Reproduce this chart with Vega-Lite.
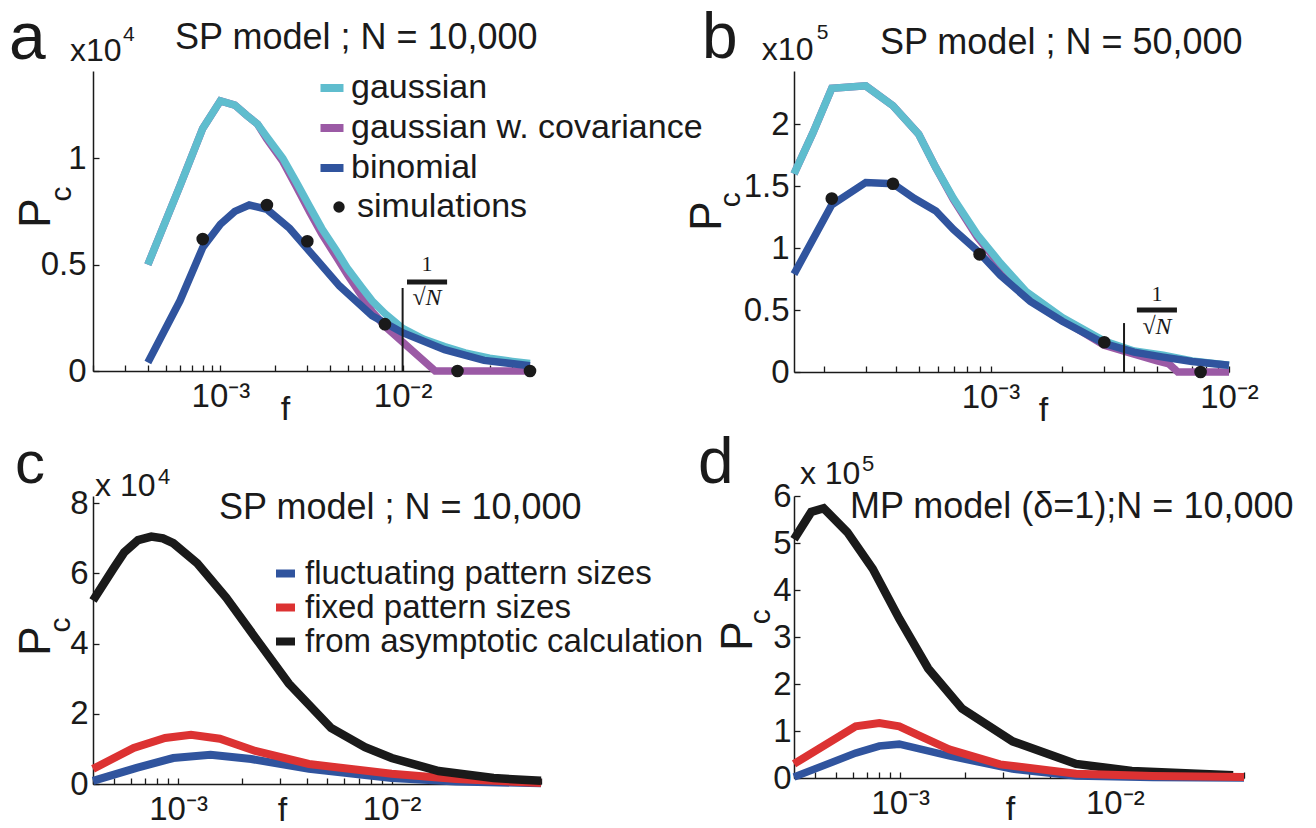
{
  "$schema": "https://vega.github.io/schema/vega-lite/v6.json",
  "background": "white",
  "autosize": {"type": "pad"},
  "padding": {"left": 9, "top": 6, "right": 5, "bottom": 0},
  "config": {
    "view": {"stroke": null},
    "font": "Liberation Sans",
    "axis": {"grid": false, "domainColor": "#1a1a1a", "domainWidth": 1.5, "tickColor": "#1a1a1a", "tickWidth": 1.3, "tickSize": -6, "labelColor": "#1a1a1a", "labelFont": "Liberation Sans", "labelFontSize": 33, "labelFlush": false, "labelOverlap": false, "titleFont": "Liberation Sans", "titleFontSize": 34, "titleFontWeight": "normal", "titleColor": "#1a1a1a"},
    "axisX": {"labelPadding": 15, "labelBaseline": "top", "titleBaseline": "alphabetic", "titleAlign": "center"},
    "axisY": {"labelPadding": 13},
    "text": {"font": "Liberation Sans", "color": "#1a1a1a"}
  },
  "resolve": {"scale": {"color": "independent", "shape": "independent"}, "legend": {"color": "independent", "shape": "independent"}},
  "datasets": {
    "a": [
      {"series": "gaussian", "f": 0.0004, "Pc": 0.5},
      {"series": "gaussian", "f": 0.0006, "Pc": 0.87},
      {"series": "gaussian", "f": 0.0008, "Pc": 1.14},
      {"series": "gaussian", "f": 0.001, "Pc": 1.27},
      {"series": "gaussian", "f": 0.0012, "Pc": 1.25},
      {"series": "gaussian", "f": 0.0014, "Pc": 1.2},
      {"series": "gaussian", "f": 0.0016, "Pc": 1.16},
      {"series": "gaussian", "f": 0.0018, "Pc": 1.1},
      {"series": "gaussian", "f": 0.0022, "Pc": 1.0},
      {"series": "gaussian", "f": 0.0026, "Pc": 0.89},
      {"series": "gaussian", "f": 0.0031, "Pc": 0.77},
      {"series": "gaussian", "f": 0.0036, "Pc": 0.67},
      {"series": "gaussian", "f": 0.0043, "Pc": 0.57},
      {"series": "gaussian", "f": 0.005, "Pc": 0.48},
      {"series": "gaussian", "f": 0.006, "Pc": 0.39},
      {"series": "gaussian", "f": 0.0068, "Pc": 0.33},
      {"series": "gaussian", "f": 0.008, "Pc": 0.27},
      {"series": "gaussian", "f": 0.01, "Pc": 0.2},
      {"series": "gaussian", "f": 0.013, "Pc": 0.15},
      {"series": "gaussian", "f": 0.017, "Pc": 0.115},
      {"series": "gaussian", "f": 0.022, "Pc": 0.085},
      {"series": "gaussian", "f": 0.03, "Pc": 0.06},
      {"series": "gaussian", "f": 0.04, "Pc": 0.045},
      {"series": "gaussian", "f": 0.05, "Pc": 0.035},
      {"series": "gaussian w. covariance", "f": 0.0004, "Pc": 0.5},
      {"series": "gaussian w. covariance", "f": 0.0006, "Pc": 0.87},
      {"series": "gaussian w. covariance", "f": 0.0008, "Pc": 1.14},
      {"series": "gaussian w. covariance", "f": 0.001, "Pc": 1.27},
      {"series": "gaussian w. covariance", "f": 0.0012, "Pc": 1.25},
      {"series": "gaussian w. covariance", "f": 0.0014, "Pc": 1.2},
      {"series": "gaussian w. covariance", "f": 0.0016, "Pc": 1.16},
      {"series": "gaussian w. covariance", "f": 0.0018, "Pc": 1.09},
      {"series": "gaussian w. covariance", "f": 0.0022, "Pc": 0.985},
      {"series": "gaussian w. covariance", "f": 0.0026, "Pc": 0.87},
      {"series": "gaussian w. covariance", "f": 0.0031, "Pc": 0.745},
      {"series": "gaussian w. covariance", "f": 0.0036, "Pc": 0.645},
      {"series": "gaussian w. covariance", "f": 0.0043, "Pc": 0.54},
      {"series": "gaussian w. covariance", "f": 0.005, "Pc": 0.45},
      {"series": "gaussian w. covariance", "f": 0.006, "Pc": 0.35},
      {"series": "gaussian w. covariance", "f": 0.0068, "Pc": 0.28},
      {"series": "gaussian w. covariance", "f": 0.008, "Pc": 0.21},
      {"series": "gaussian w. covariance", "f": 0.0151, "Pc": 0.0},
      {"series": "gaussian w. covariance", "f": 0.02, "Pc": 0.0},
      {"series": "gaussian w. covariance", "f": 0.05, "Pc": 0.0},
      {"series": "binomial", "f": 0.0004, "Pc": 0.04},
      {"series": "binomial", "f": 0.0006, "Pc": 0.33},
      {"series": "binomial", "f": 0.0008, "Pc": 0.58},
      {"series": "binomial", "f": 0.001, "Pc": 0.69},
      {"series": "binomial", "f": 0.0012, "Pc": 0.75},
      {"series": "binomial", "f": 0.00144, "Pc": 0.78},
      {"series": "binomial", "f": 0.0018, "Pc": 0.76},
      {"series": "binomial", "f": 0.0024, "Pc": 0.67},
      {"series": "binomial", "f": 0.0031, "Pc": 0.56},
      {"series": "binomial", "f": 0.0045, "Pc": 0.4},
      {"series": "binomial", "f": 0.0068, "Pc": 0.26},
      {"series": "binomial", "f": 0.01, "Pc": 0.18},
      {"series": "binomial", "f": 0.017, "Pc": 0.1},
      {"series": "binomial", "f": 0.028, "Pc": 0.05},
      {"series": "binomial", "f": 0.05, "Pc": 0.025},
      {"series": "simulations", "f": 0.0008, "Pc": 0.62},
      {"series": "simulations", "f": 0.0018, "Pc": 0.78},
      {"series": "simulations", "f": 0.003, "Pc": 0.61},
      {"series": "simulations", "f": 0.008, "Pc": 0.22},
      {"series": "simulations", "f": 0.02, "Pc": 0.0},
      {"series": "simulations", "f": 0.05, "Pc": 0.0}
    ],
    "b": [
      {"series": "gaussian", "f": 0.00015, "Pc": 1.6},
      {"series": "gaussian", "f": 0.00018, "Pc": 1.93},
      {"series": "gaussian", "f": 0.000216, "Pc": 2.29},
      {"series": "gaussian", "f": 0.0003, "Pc": 2.31},
      {"series": "gaussian", "f": 0.00039, "Pc": 2.15},
      {"series": "gaussian", "f": 0.0005, "Pc": 1.92},
      {"series": "gaussian", "f": 0.00059, "Pc": 1.65},
      {"series": "gaussian", "f": 0.0007, "Pc": 1.4},
      {"series": "gaussian", "f": 0.00088, "Pc": 1.11},
      {"series": "gaussian", "f": 0.0011, "Pc": 0.88},
      {"series": "gaussian", "f": 0.00141, "Pc": 0.65},
      {"series": "gaussian", "f": 0.002, "Pc": 0.44},
      {"series": "gaussian", "f": 0.003, "Pc": 0.25},
      {"series": "gaussian", "f": 0.004, "Pc": 0.17},
      {"series": "gaussian", "f": 0.0053, "Pc": 0.135},
      {"series": "gaussian", "f": 0.007, "Pc": 0.09},
      {"series": "gaussian", "f": 0.01, "Pc": 0.055},
      {"series": "gaussian w. covariance", "f": 0.00015, "Pc": 1.6},
      {"series": "gaussian w. covariance", "f": 0.00018, "Pc": 1.93},
      {"series": "gaussian w. covariance", "f": 0.000216, "Pc": 2.29},
      {"series": "gaussian w. covariance", "f": 0.0003, "Pc": 2.31},
      {"series": "gaussian w. covariance", "f": 0.00039, "Pc": 2.15},
      {"series": "gaussian w. covariance", "f": 0.0005, "Pc": 1.92},
      {"series": "gaussian w. covariance", "f": 0.00059, "Pc": 1.65},
      {"series": "gaussian w. covariance", "f": 0.0007, "Pc": 1.39},
      {"series": "gaussian w. covariance", "f": 0.00088, "Pc": 1.09},
      {"series": "gaussian w. covariance", "f": 0.0011, "Pc": 0.86},
      {"series": "gaussian w. covariance", "f": 0.00141, "Pc": 0.63},
      {"series": "gaussian w. covariance", "f": 0.002, "Pc": 0.42},
      {"series": "gaussian w. covariance", "f": 0.003, "Pc": 0.215},
      {"series": "gaussian w. covariance", "f": 0.004, "Pc": 0.145},
      {"series": "gaussian w. covariance", "f": 0.005, "Pc": 0.09},
      {"series": "gaussian w. covariance", "f": 0.0056, "Pc": 0.065},
      {"series": "gaussian w. covariance", "f": 0.0061, "Pc": 0.0},
      {"series": "gaussian w. covariance", "f": 0.01, "Pc": 0.0},
      {"series": "binomial", "f": 0.00015, "Pc": 0.79},
      {"series": "binomial", "f": 0.000216, "Pc": 1.35},
      {"series": "binomial", "f": 0.0003, "Pc": 1.53},
      {"series": "binomial", "f": 0.00039, "Pc": 1.52},
      {"series": "binomial", "f": 0.00048, "Pc": 1.4},
      {"series": "binomial", "f": 0.00059, "Pc": 1.3},
      {"series": "binomial", "f": 0.0007, "Pc": 1.15},
      {"series": "binomial", "f": 0.00088, "Pc": 0.98},
      {"series": "binomial", "f": 0.0011, "Pc": 0.78},
      {"series": "binomial", "f": 0.00147, "Pc": 0.57},
      {"series": "binomial", "f": 0.002, "Pc": 0.41},
      {"series": "binomial", "f": 0.003, "Pc": 0.23},
      {"series": "binomial", "f": 0.004, "Pc": 0.16},
      {"series": "binomial", "f": 0.0053, "Pc": 0.12},
      {"series": "binomial", "f": 0.007, "Pc": 0.085},
      {"series": "binomial", "f": 0.01, "Pc": 0.055},
      {"series": "simulations", "f": 0.000216, "Pc": 1.4},
      {"series": "simulations", "f": 0.00039, "Pc": 1.52},
      {"series": "simulations", "f": 0.0009, "Pc": 0.95},
      {"series": "simulations", "f": 0.003, "Pc": 0.24},
      {"series": "simulations", "f": 0.0076, "Pc": 0.0}
    ],
    "c": [
      {"series": "from asymptotic calculation", "f": 0.0004, "Pc": 5.23},
      {"series": "from asymptotic calculation", "f": 0.0005, "Pc": 6.15},
      {"series": "from asymptotic calculation", "f": 0.00056, "Pc": 6.6},
      {"series": "from asymptotic calculation", "f": 0.00065, "Pc": 6.95},
      {"series": "from asymptotic calculation", "f": 0.00075, "Pc": 7.05},
      {"series": "from asymptotic calculation", "f": 0.00085, "Pc": 7.0},
      {"series": "from asymptotic calculation", "f": 0.00095, "Pc": 6.86},
      {"series": "from asymptotic calculation", "f": 0.00123, "Pc": 6.29},
      {"series": "from asymptotic calculation", "f": 0.00168, "Pc": 5.31},
      {"series": "from asymptotic calculation", "f": 0.0023, "Pc": 4.17},
      {"series": "from asymptotic calculation", "f": 0.0033, "Pc": 2.86},
      {"series": "from asymptotic calculation", "f": 0.0052, "Pc": 1.6},
      {"series": "from asymptotic calculation", "f": 0.0075, "Pc": 1.05},
      {"series": "from asymptotic calculation", "f": 0.01, "Pc": 0.74},
      {"series": "from asymptotic calculation", "f": 0.0166, "Pc": 0.37},
      {"series": "from asymptotic calculation", "f": 0.03, "Pc": 0.17},
      {"series": "from asymptotic calculation", "f": 0.05, "Pc": 0.09},
      {"series": "fixed pattern sizes", "f": 0.0004, "Pc": 0.43},
      {"series": "fixed pattern sizes", "f": 0.00062, "Pc": 1.03},
      {"series": "fixed pattern sizes", "f": 0.00087, "Pc": 1.31},
      {"series": "fixed pattern sizes", "f": 0.00115, "Pc": 1.4},
      {"series": "fixed pattern sizes", "f": 0.00157, "Pc": 1.29},
      {"series": "fixed pattern sizes", "f": 0.0023, "Pc": 0.94},
      {"series": "fixed pattern sizes", "f": 0.0041, "Pc": 0.57},
      {"series": "fixed pattern sizes", "f": 0.01, "Pc": 0.29},
      {"series": "fixed pattern sizes", "f": 0.02, "Pc": 0.14},
      {"series": "fixed pattern sizes", "f": 0.05, "Pc": 0.03},
      {"series": "fluctuating pattern sizes", "f": 0.0004, "Pc": 0.09},
      {"series": "fluctuating pattern sizes", "f": 0.00064, "Pc": 0.46},
      {"series": "fluctuating pattern sizes", "f": 0.00095, "Pc": 0.74},
      {"series": "fluctuating pattern sizes", "f": 0.00142, "Pc": 0.83},
      {"series": "fluctuating pattern sizes", "f": 0.0022, "Pc": 0.71},
      {"series": "fluctuating pattern sizes", "f": 0.0041, "Pc": 0.43},
      {"series": "fluctuating pattern sizes", "f": 0.01, "Pc": 0.17},
      {"series": "fluctuating pattern sizes", "f": 0.02, "Pc": 0.07},
      {"series": "fluctuating pattern sizes", "f": 0.05, "Pc": 0.02}
    ],
    "d": [
      {"series": "from asymptotic calculation", "f": 0.00032, "Pc": 5.08},
      {"series": "from asymptotic calculation", "f": 0.000385, "Pc": 5.66},
      {"series": "from asymptotic calculation", "f": 0.00044, "Pc": 5.74},
      {"series": "from asymptotic calculation", "f": 0.000567, "Pc": 5.23},
      {"series": "from asymptotic calculation", "f": 0.000745, "Pc": 4.45},
      {"series": "from asymptotic calculation", "f": 0.00099, "Pc": 3.39},
      {"series": "from asymptotic calculation", "f": 0.00135, "Pc": 2.33},
      {"series": "from asymptotic calculation", "f": 0.00194, "Pc": 1.48},
      {"series": "from asymptotic calculation", "f": 0.00334, "Pc": 0.78},
      {"series": "from asymptotic calculation", "f": 0.0066, "Pc": 0.3},
      {"series": "from asymptotic calculation", "f": 0.012, "Pc": 0.15},
      {"series": "from asymptotic calculation", "f": 0.0356, "Pc": 0.06},
      {"series": "fixed pattern sizes", "f": 0.00032, "Pc": 0.3},
      {"series": "fixed pattern sizes", "f": 0.00062, "Pc": 1.1},
      {"series": "fixed pattern sizes", "f": 0.0008, "Pc": 1.17},
      {"series": "fixed pattern sizes", "f": 0.00099, "Pc": 1.1},
      {"series": "fixed pattern sizes", "f": 0.0013, "Pc": 0.85},
      {"series": "fixed pattern sizes", "f": 0.00169, "Pc": 0.61},
      {"series": "fixed pattern sizes", "f": 0.00292, "Pc": 0.29},
      {"series": "fixed pattern sizes", "f": 0.0066, "Pc": 0.09},
      {"series": "fixed pattern sizes", "f": 0.015, "Pc": 0.04},
      {"series": "fixed pattern sizes", "f": 0.04, "Pc": 0.02},
      {"series": "fluctuating pattern sizes", "f": 0.00032, "Pc": 0.02},
      {"series": "fluctuating pattern sizes", "f": 0.00062, "Pc": 0.53},
      {"series": "fluctuating pattern sizes", "f": 0.0008, "Pc": 0.68},
      {"series": "fluctuating pattern sizes", "f": 0.00099, "Pc": 0.72},
      {"series": "fluctuating pattern sizes", "f": 0.00169, "Pc": 0.47},
      {"series": "fluctuating pattern sizes", "f": 0.00334, "Pc": 0.19},
      {"series": "fluctuating pattern sizes", "f": 0.0066, "Pc": 0.04},
      {"series": "fluctuating pattern sizes", "f": 0.015, "Pc": 0.01},
      {"series": "fluctuating pattern sizes", "f": 0.04, "Pc": 0.0}
    ]
  },
  "columns": 2,
  "align": "none",
  "bounds": "flush",
  "spacing": {"row": 124, "column": 253},
  "concat": [
    {
      "width": 437, "height": 300,
      "data": {"name": "a"},
      "layer": [
        {"transform": [{"filter": "datum.series === 'gaussian w. covariance'"}],
         "mark": {"type": "line", "strokeWidth": 7.5, "strokeCap": "butt"},
         "encoding": {
           "x": {"field": "f", "type": "quantitative", "scale": {"type": "log", "domain": [0.0002, 0.05], "nice": false},
                 "axis": {"values": [0.0002,0.0003,0.0004,0.0005,0.0006,0.0007,0.0008,0.0009,0.001,0.002,0.003,0.004,0.005,0.006,0.007,0.008,0.009,0.01,0.02,0.03,0.04,0.05],
                          "labelExpr": "abs(log(datum.value)/LN10+3)<0.01 ? '10⁻³' : (abs(log(datum.value)/LN10+2)<0.01 ? '10⁻²' : '')",
                          "title": "f", "titleX": 192, "titleY": 48}},
           "y": {"field": "Pc", "type": "quantitative", "scale": {"domain": [0, 1.41], "nice": false, "zero": false},
                 "axis": {"values": [0, 0.5, 1], "format": "~g", "title": null}},
           "color": {"field": "series", "type": "nominal",
                     "scale": {"domain": ["gaussian", "gaussian w. covariance", "binomial"], "range": ["#5fbdce", "#9b5aa5", "#30549e"]},
                     "legend": {"orient": "none", "legendX": 222, "legendY": 0, "direction": "vertical", "title": null, "symbolType": "stroke", "symbolSize": 529, "symbolStrokeWidth": 8, "labelFont": "Liberation Sans", "labelFontSize": 34, "labelColor": "#1a1a1a", "labelOffset": 2, "rowPadding": 6, "padding": 0, "labelLimit": 600, "symbolOpacity": 1}}
         }},
        {"transform": [{"filter": "datum.series === 'gaussian'"}],
         "mark": {"type": "line", "strokeWidth": 7.5, "strokeCap": "butt"},
         "encoding": {"x": {"field": "f", "type": "quantitative"}, "y": {"field": "Pc", "type": "quantitative"}, "color": {"field": "series", "type": "nominal"}}},
        {"transform": [{"filter": "datum.series === 'binomial'"}],
         "mark": {"type": "line", "strokeWidth": 7.5, "strokeCap": "butt"},
         "encoding": {"x": {"field": "f", "type": "quantitative"}, "y": {"field": "Pc", "type": "quantitative"}, "color": {"field": "series", "type": "nominal"}}},
        {"transform": [{"filter": "datum.series === 'simulations'"}],
         "mark": {"type": "point", "filled": true, "size": 160, "opacity": 1, "color": "#1a1a1a"},
         "encoding": {"x": {"field": "f", "type": "quantitative"}, "y": {"field": "Pc", "type": "quantitative"},
                      "shape": {"field": "series", "type": "nominal", "scale": {"domain": ["simulations"], "range": ["circle"]},
                                "legend": {"orient": "none", "legendX": 229, "legendY": 119, "title": null, "symbolSize": 130, "symbolFillColor": "#1a1a1a", "symbolStrokeColor": "#1a1a1a", "symbolStrokeWidth": 0, "symbolOpacity": 1, "labelFont": "Liberation Sans", "labelFontSize": 34, "labelColor": "#1a1a1a", "labelOffset": 1, "padding": 0, "labelLimit": 600}}}},
        {"data": {"values": [{}]}, "mark": {"type": "rule", "strokeWidth": 2, "color": "#1a1a1a"},
         "encoding": {"x": {"datum": 0.01, "type": "quantitative"}, "y": {"datum": 0, "type": "quantitative"}, "y2": {"datum": 0.39}}},
        {"data": {"values": [{}]}, "mark": {"type": "rule", "strokeWidth": 5, "color": "#1a1a1a"},
         "encoding": {"x": {"datum": 0.01057, "type": "quantitative"}, "x2": {"datum": 0.01754}, "y": {"datum": 0.418, "type": "quantitative"}}},
        {"data": {"values": [{}]}, "mark": {"type": "text", "text": "1", "font": "Liberation Serif", "fontSize": 22, "align": "center", "baseline": "middle"},
         "encoding": {"x": {"datum": 0.01361, "type": "quantitative"}, "y": {"datum": 0.503, "type": "quantitative"}}},
        {"data": {"values": [{}]}, "mark": {"type": "text", "text": "√N", "font": "Liberation Serif", "fontStyle": "italic", "fontSize": 24, "align": "center", "baseline": "middle"},
         "encoding": {"x": {"datum": 0.01361, "type": "quantitative"}, "y": {"datum": 0.343, "type": "quantitative"}}},
        {"data": {"values": [{}]}, "mark": {"type": "text", "text": "a", "fontSize": 66, "align": "left", "baseline": "alphabetic"},
         "encoding": {"x": {"datum": 0.0000692, "type": "quantitative"}, "y": {"datum": 1.466, "type": "quantitative"}}},
        {"data": {"values": [{}]}, "mark": {"type": "text", "text": "x10", "fontSize": 32, "align": "left", "baseline": "alphabetic"},
         "encoding": {"x": {"datum": 0.0001496, "type": "quantitative"}, "y": {"datum": 1.457, "type": "quantitative"}}},
        {"data": {"values": [{}]}, "mark": {"type": "text", "text": "4", "fontSize": 21, "align": "left", "baseline": "alphabetic"},
         "encoding": {"x": {"datum": 0.000292, "type": "quantitative"}, "y": {"datum": 1.551, "type": "quantitative"}}},
        {"data": {"values": [{}]}, "mark": {"type": "text", "text": "SP model ; N = 10,000", "fontSize": 36, "align": "left", "baseline": "alphabetic"},
         "encoding": {"x": {"datum": 0.000564, "type": "quantitative"}, "y": {"datum": 1.513, "type": "quantitative"}}},
        {"data": {"values": [{}]}, "mark": {"type": "text", "text": "P", "fontSize": 44, "angle": 270, "align": "center", "baseline": "middle"},
         "encoding": {"x": {"datum": 0.0000986, "type": "quantitative"}, "y": {"datum": 0.742, "type": "quantitative"}}},
        {"data": {"values": [{}]}, "mark": {"type": "text", "text": "c", "fontSize": 30, "angle": 270, "align": "center", "baseline": "middle"},
         "encoding": {"x": {"datum": 0.0001352, "type": "quantitative"}, "y": {"datum": 0.832, "type": "quantitative"}}}
      ]
    },
    {
      "width": 435, "height": 301,
      "data": {"name": "b"},
      "layer": [
        {"transform": [{"filter": "datum.series === 'gaussian w. covariance'"}],
         "mark": {"type": "line", "strokeWidth": 7.5, "strokeCap": "butt"},
         "encoding": {
           "x": {"field": "f", "type": "quantitative", "scale": {"type": "log", "domain": [0.00015, 0.01], "nice": false},
                 "axis": {"values": [0.0002,0.0003,0.0004,0.0005,0.0006,0.0007,0.0008,0.0009,0.001,0.002,0.003,0.004,0.005,0.006,0.007,0.008,0.009,0.01],
                          "labelExpr": "abs(log(datum.value)/LN10+3)<0.01 ? '10⁻³' : (abs(log(datum.value)/LN10+2)<0.01 ? '10⁻²' : '')",
                          "title": "f", "titleX": 249, "titleY": 48}},
           "y": {"field": "Pc", "type": "quantitative", "scale": {"domain": [0, 2.43], "nice": false, "zero": false},
                 "axis": {"values": [0, 0.5, 1, 1.5, 2], "format": "~g", "title": null, "labelPadding": 11}},
           "color": {"field": "series", "type": "nominal",
                     "scale": {"domain": ["gaussian", "gaussian w. covariance", "binomial", "simulations"], "range": ["#5fbdce", "#9b5aa5", "#30549e", "#1a1a1a"]},
                     "legend": null}
         }},
        {"transform": [{"filter": "datum.series === 'gaussian'"}],
         "mark": {"type": "line", "strokeWidth": 7.5, "strokeCap": "butt"},
         "encoding": {"x": {"field": "f", "type": "quantitative"}, "y": {"field": "Pc", "type": "quantitative"}, "color": {"field": "series", "type": "nominal", "legend": null}}},
        {"transform": [{"filter": "datum.series === 'binomial'"}],
         "mark": {"type": "line", "strokeWidth": 7.5, "strokeCap": "butt"},
         "encoding": {"x": {"field": "f", "type": "quantitative"}, "y": {"field": "Pc", "type": "quantitative"}, "color": {"field": "series", "type": "nominal", "legend": null}}},
        {"transform": [{"filter": "datum.series === 'simulations'"}],
         "mark": {"type": "point", "filled": true, "shape": "circle", "size": 160, "opacity": 1},
         "encoding": {"x": {"field": "f", "type": "quantitative"}, "y": {"field": "Pc", "type": "quantitative"}, "color": {"field": "series", "type": "nominal", "legend": null}}},
        {"data": {"values": [{}]}, "mark": {"type": "rule", "strokeWidth": 2, "color": "#1a1a1a"},
         "encoding": {"x": {"datum": 0.00363, "type": "quantitative"}, "y": {"datum": 0, "type": "quantitative"}, "y2": {"datum": 0.395}}},
        {"data": {"values": [{}]}, "mark": {"type": "rule", "strokeWidth": 5, "color": "#1a1a1a"},
         "encoding": {"x": {"datum": 0.00411, "type": "quantitative"}, "x2": {"datum": 0.00605}, "y": {"datum": 0.5, "type": "quantitative"}}},
        {"data": {"values": [{}]}, "mark": {"type": "text", "text": "1", "font": "Liberation Serif", "fontSize": 22, "align": "center", "baseline": "middle"},
         "encoding": {"x": {"datum": 0.00499, "type": "quantitative"}, "y": {"datum": 0.63, "type": "quantitative"}}},
        {"data": {"values": [{}]}, "mark": {"type": "text", "text": "√N", "font": "Liberation Serif", "fontStyle": "italic", "fontSize": 24, "align": "center", "baseline": "middle"},
         "encoding": {"x": {"datum": 0.00499, "type": "quantitative"}, "y": {"datum": 0.363, "type": "quantitative"}}},
        {"data": {"values": [{}]}, "mark": {"type": "text", "text": "b", "fontSize": 64, "align": "left", "baseline": "alphabetic"},
         "encoding": {"x": {"datum": 0.0000617, "type": "quantitative"}, "y": {"datum": 2.534, "type": "quantitative"}}},
        {"data": {"values": [{}]}, "mark": {"type": "text", "text": "x10", "fontSize": 32, "align": "left", "baseline": "alphabetic"},
         "encoding": {"x": {"datum": 0.00011, "type": "quantitative"}, "y": {"datum": 2.518, "type": "quantitative"}}},
        {"data": {"values": [{}]}, "mark": {"type": "text", "text": "5", "fontSize": 21, "align": "left", "baseline": "alphabetic"},
         "encoding": {"x": {"datum": 0.000187, "type": "quantitative"}, "y": {"datum": 2.688, "type": "quantitative"}}},
        {"data": {"values": [{}]}, "mark": {"type": "text", "text": "SP model ; N = 50,000", "fontSize": 36, "align": "left", "baseline": "alphabetic"},
         "encoding": {"x": {"datum": 0.000344, "type": "quantitative"}, "y": {"datum": 2.567, "type": "quantitative"}}},
        {"data": {"values": [{}]}, "mark": {"type": "text", "text": "P", "fontSize": 44, "angle": 270, "align": "center", "baseline": "middle"},
         "encoding": {"x": {"datum": 0.0000655, "type": "quantitative"}, "y": {"datum": 1.259, "type": "quantitative"}}},
        {"data": {"values": [{}]}, "mark": {"type": "text", "text": "c", "fontSize": 30, "angle": 270, "align": "center", "baseline": "middle"},
         "encoding": {"x": {"datum": 0.0000815, "type": "quantitative"}, "y": {"datum": 1.39, "type": "quantitative"}}}
      ]
    },
    {
      "width": 448, "height": 288,
      "data": {"name": "c"},
      "layer": [
        {"transform": [{"filter": "datum.series === 'fluctuating pattern sizes'"}],
         "mark": {"type": "line", "strokeWidth": 8, "strokeCap": "butt"},
         "encoding": {
           "x": {"field": "f", "type": "quantitative", "scale": {"type": "log", "domain": [0.0004, 0.05], "nice": false},
                 "axis": {"values": [0.0004,0.0005,0.0006,0.0007,0.0008,0.0009,0.001,0.002,0.003,0.004,0.005,0.006,0.007,0.008,0.009,0.01,0.02,0.03,0.04,0.05],
                          "labelExpr": "abs(log(datum.value)/LN10+3)<0.01 ? '10⁻³' : (abs(log(datum.value)/LN10+2)<0.01 ? '10⁻²' : '')",
                          "title": "f", "titleX": 189, "titleY": 36}},
           "y": {"field": "Pc", "type": "quantitative", "scale": {"domain": [0, 8.205], "nice": false, "zero": false},
                 "axis": {"values": [0, 2, 4, 6, 8], "format": "~g", "title": null, "labelPadding": 11}},
           "color": {"field": "series", "type": "nominal",
                     "scale": {"domain": ["fluctuating pattern sizes", "fixed pattern sizes", "from asymptotic calculation"], "range": ["#30549e", "#dc3232", "#1a1a1a"]},
                     "legend": {"orient": "none", "legendX": 176, "legendY": 61, "direction": "vertical", "title": null, "symbolType": "stroke", "symbolSize": 361, "symbolStrokeWidth": 8, "labelFont": "Liberation Sans", "labelFontSize": 33, "labelColor": "#1a1a1a", "labelOffset": 3, "rowPadding": 0, "padding": 0, "labelLimit": 600, "symbolOpacity": 1}}
         }},
        {"transform": [{"filter": "datum.series === 'fixed pattern sizes'"}],
         "mark": {"type": "line", "strokeWidth": 8, "strokeCap": "butt"},
         "encoding": {"x": {"field": "f", "type": "quantitative"}, "y": {"field": "Pc", "type": "quantitative"}, "color": {"field": "series", "type": "nominal"}}},
        {"transform": [{"filter": "datum.series === 'from asymptotic calculation'"}],
         "mark": {"type": "line", "strokeWidth": 8.5, "strokeCap": "butt"},
         "encoding": {"x": {"field": "f", "type": "quantitative"}, "y": {"field": "Pc", "type": "quantitative"}, "color": {"field": "series", "type": "nominal"}}},
        {"data": {"values": [{}]}, "mark": {"type": "text", "text": "c", "fontSize": 60, "align": "left", "baseline": "alphabetic"},
         "encoding": {"x": {"datum": 0.0001726, "type": "quantitative"}, "y": {"datum": 8.575, "type": "quantitative"}}},
        {"data": {"values": [{}]}, "mark": {"type": "text", "text": "x 10", "fontSize": 32, "align": "left", "baseline": "alphabetic"},
         "encoding": {"x": {"datum": 0.000409, "type": "quantitative"}, "y": {"datum": 8.205, "type": "quantitative"}}},
        {"data": {"values": [{}]}, "mark": {"type": "text", "text": "4", "fontSize": 22, "align": "left", "baseline": "alphabetic"},
         "encoding": {"x": {"datum": 0.000805, "type": "quantitative"}, "y": {"datum": 8.547, "type": "quantitative"}}},
        {"data": {"values": [{}]}, "mark": {"type": "text", "text": "SP model ; N = 10,000", "fontSize": 36, "align": "left", "baseline": "alphabetic"},
         "encoding": {"x": {"datum": 0.001556, "type": "quantitative"}, "y": {"datum": 7.55, "type": "quantitative"}}},
        {"data": {"values": [{}]}, "mark": {"type": "text", "text": "P", "fontSize": 44, "angle": 270, "align": "center", "baseline": "middle"},
         "encoding": {"x": {"datum": 0.000219, "type": "quantitative"}, "y": {"datum": 4.07, "type": "quantitative"}}},
        {"data": {"values": [{}]}, "mark": {"type": "text", "text": "c", "fontSize": 30, "angle": 270, "align": "center", "baseline": "middle"},
         "encoding": {"x": {"datum": 0.000283, "type": "quantitative"}, "y": {"datum": 4.53, "type": "quantitative"}}}
      ]
    },
    {
      "width": 450, "height": 282,
      "data": {"name": "d"},
      "layer": [
        {"transform": [{"filter": "datum.series === 'fluctuating pattern sizes'"}],
         "mark": {"type": "line", "strokeWidth": 7.5, "strokeCap": "butt"},
         "encoding": {
           "x": {"field": "f", "type": "quantitative", "scale": {"type": "log", "domain": [0.00032, 0.04], "nice": false},
                 "axis": {"values": [0.0004,0.0005,0.0006,0.0007,0.0008,0.0009,0.001,0.002,0.003,0.004,0.005,0.006,0.007,0.008,0.009,0.01,0.02,0.03,0.04],
                          "labelExpr": "abs(log(datum.value)/LN10+3)<0.01 ? '10⁻³' : (abs(log(datum.value)/LN10+2)<0.01 ? '10⁻²' : '')",
                          "title": "f", "titleX": 216, "titleY": 41}},
           "y": {"field": "Pc", "type": "quantitative", "scale": {"domain": [0, 6], "nice": false, "zero": false},
                 "axis": {"values": [0, 1, 2, 3, 4, 5, 6], "format": "~g", "title": null, "labelPadding": 9}},
           "color": {"field": "series", "type": "nominal",
                     "scale": {"domain": ["fluctuating pattern sizes", "fixed pattern sizes", "from asymptotic calculation"], "range": ["#30549e", "#dc3232", "#1a1a1a"]},
                     "legend": null}
         }},
        {"transform": [{"filter": "datum.series === 'from asymptotic calculation'"}],
         "mark": {"type": "line", "strokeWidth": 8.5, "strokeCap": "butt"},
         "encoding": {"x": {"field": "f", "type": "quantitative"}, "y": {"field": "Pc", "type": "quantitative"}, "color": {"field": "series", "type": "nominal", "legend": null}}},
        {"transform": [{"filter": "datum.series === 'fixed pattern sizes'"}],
         "mark": {"type": "line", "strokeWidth": 8, "strokeCap": "butt"},
         "encoding": {"x": {"field": "f", "type": "quantitative"}, "y": {"field": "Pc", "type": "quantitative"}, "color": {"field": "series", "type": "nominal", "legend": null}}},
        {"data": {"values": [{}]}, "mark": {"type": "text", "text": "d", "fontSize": 64, "align": "left", "baseline": "alphabetic"},
         "encoding": {"x": {"datum": 0.0001142, "type": "quantitative"}, "y": {"datum": 6.277, "type": "quantitative"}}},
        {"data": {"values": [{}]}, "mark": {"type": "text", "text": "x 10", "fontSize": 32, "align": "left", "baseline": "alphabetic"},
         "encoding": {"x": {"datum": 0.000341, "type": "quantitative"}, "y": {"datum": 6.255, "type": "quantitative"}}},
        {"data": {"values": [{}]}, "mark": {"type": "text", "text": "5", "fontSize": 22, "align": "left", "baseline": "alphabetic"},
         "encoding": {"x": {"datum": 0.000663, "type": "quantitative"}, "y": {"datum": 6.532, "type": "quantitative"}}},
        {"data": {"values": [{}]}, "mark": {"type": "text", "text": "MP model (δ=1);N = 10,000", "fontSize": 36, "align": "left", "baseline": "alphabetic"},
         "encoding": {"x": {"datum": 0.000583, "type": "quantitative"}, "y": {"datum": 5.53, "type": "quantitative"}}},
        {"data": {"values": [{}]}, "mark": {"type": "text", "text": "P", "fontSize": 44, "angle": 270, "align": "center", "baseline": "middle"},
         "encoding": {"x": {"datum": 0.000178, "type": "quantitative"}, "y": {"datum": 3.02, "type": "quantitative"}}},
        {"data": {"values": [{}]}, "mark": {"type": "text", "text": "c", "fontSize": 30, "angle": 270, "align": "center", "baseline": "middle"},
         "encoding": {"x": {"datum": 0.000224, "type": "quantitative"}, "y": {"datum": 3.43, "type": "quantitative"}}}
      ]
    }
  ]
}
